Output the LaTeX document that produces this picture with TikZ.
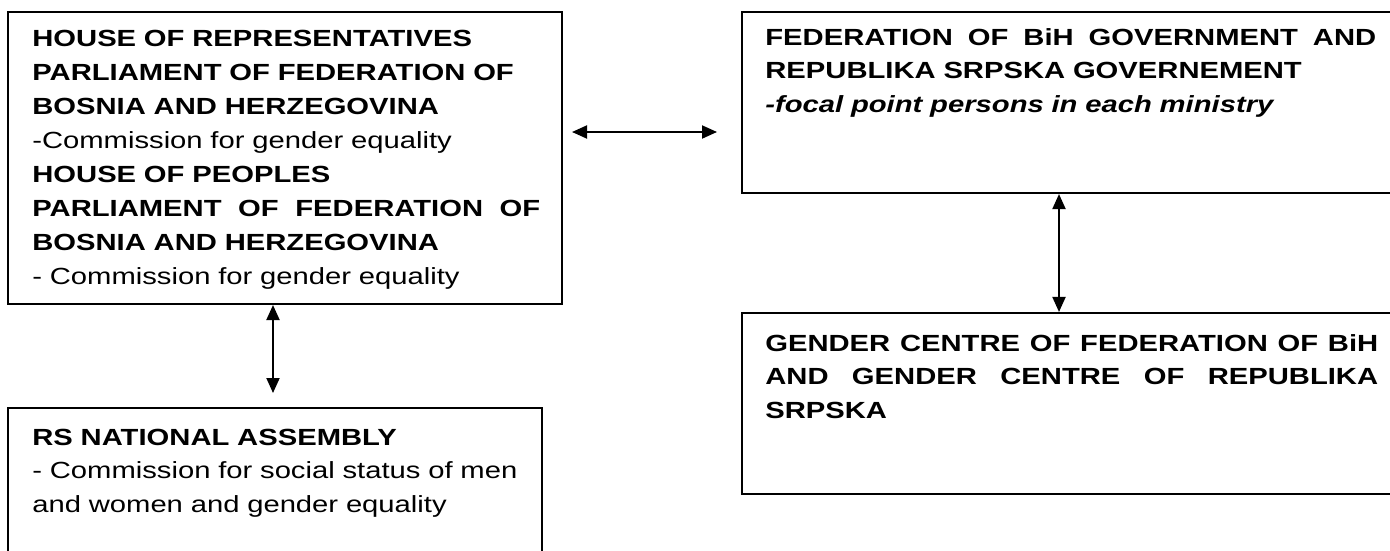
\documentclass[tikz,border=0pt]{standalone}
\usepackage{fontspec}
\setmainfont{Liberation Sans}
\newfontfamily\boxfont[FakeStretch=1.25]{Liberation Sans}
\usetikzlibrary{arrows.meta,positioning}
\tikzset{
  orgbox/.style={
    shape = rectangle,
    draw,
    line width = 1.2pt,
    inner sep = 0pt
  },
  orgtext/.style={
    anchor = base west,
    inner sep = 0pt,
    align = left,
    font = \boxfont\fontsize{13.3}{19.3}\selectfont
  },
  link/.style={
    line width = 1.1pt,
    {Triangle[length=0.3cm,width=0.26cm]}-{Triangle[length=0.3cm,width=0.26cm]}
  }
}

\begin{document}
\begin{tikzpicture}[x=0.02cm, y=-0.02cm]
    \def\wA{10.16cm}
    \def\wB{12.22cm}
    \def\wC{12.26cm}
    \def\wD{10.2cm}
    \useasboundingbox (0,0) rectangle (1390,551);
    % boxes
    \node[orgbox, minimum width=11.08cm, minimum height=5.84cm] (parl) at (285,158) {};
    \node[orgbox, minimum width=13.16cm, minimum height=3.62cm] (gov) at (1071,102.5) {};
    \node[orgbox, minimum width=13.16cm, minimum height=3.62cm] (gc) at (1071,403.5) {};
    \node[orgbox, minimum width=10.68cm, minimum height=3.04cm] (rsna) at (275,484) {};
    % texts
    \node[orgtext, text width=\wA] (parltext) at (32,47) {%
      \textbf{HOUSE OF REPRESENTATIVES}\\
      \textbf{PARLIAMENT OF FEDERATION OF}\\
      \textbf{BOSNIA AND HERZEGOVINA}\\
      -Commission for gender equality\\
      \textbf{HOUSE OF PEOPLES}\\
      \textbf{\hbox to \wA{PARLIAMENT\hfill OF\hfill FEDERATION\hfill OF}}\\
      \textbf{BOSNIA AND HERZEGOVINA}\\
      - Commission for gender equality};
    \node[orgtext, text width=\wB] (govtext) at (765,45) {%
      \textbf{\hbox to \wB{FEDERATION\hfill OF\hfill BiH\hfill GOVERNMENT\hfill AND}}\\
      \textbf{REPUBLIKA SRPSKA GOVERNEMENT}\\
      \textbf{\itshape -focal point persons in each ministry}};
    \node[orgtext, text width=\wC] (gctext) at (765,351) {%
      \textbf{\hbox to \wC{GENDER\hfill CENTRE\hfill OF\hfill FEDERATION\hfill OF\hfill BiH}}\\
      \textbf{\hbox to \wC{AND\hfill GENDER\hfill CENTRE\hfill OF\hfill REPUBLIKA}}\\
      \textbf{SRPSKA}};
    \node[orgtext, text width=\wD] (rsnatext) at (32,445) {%
      \textbf{RS NATIONAL ASSEMBLY}\\
      - Commission for social status of men\\
      and women and gender equality};
    % links
    \coordinate (hl) at (572,132);
    \coordinate (hr) at (717,132);
    \coordinate (rsend) at (273,393);
    \draw[link] (hl) -- (hr);
    \draw[link] (parl.south -| rsend) -- (rsend);
    \draw[link] ([xshift=-0.24cm]gov.south) -- ([xshift=-0.24cm]gc.north);
\end{tikzpicture}
\end{document}
